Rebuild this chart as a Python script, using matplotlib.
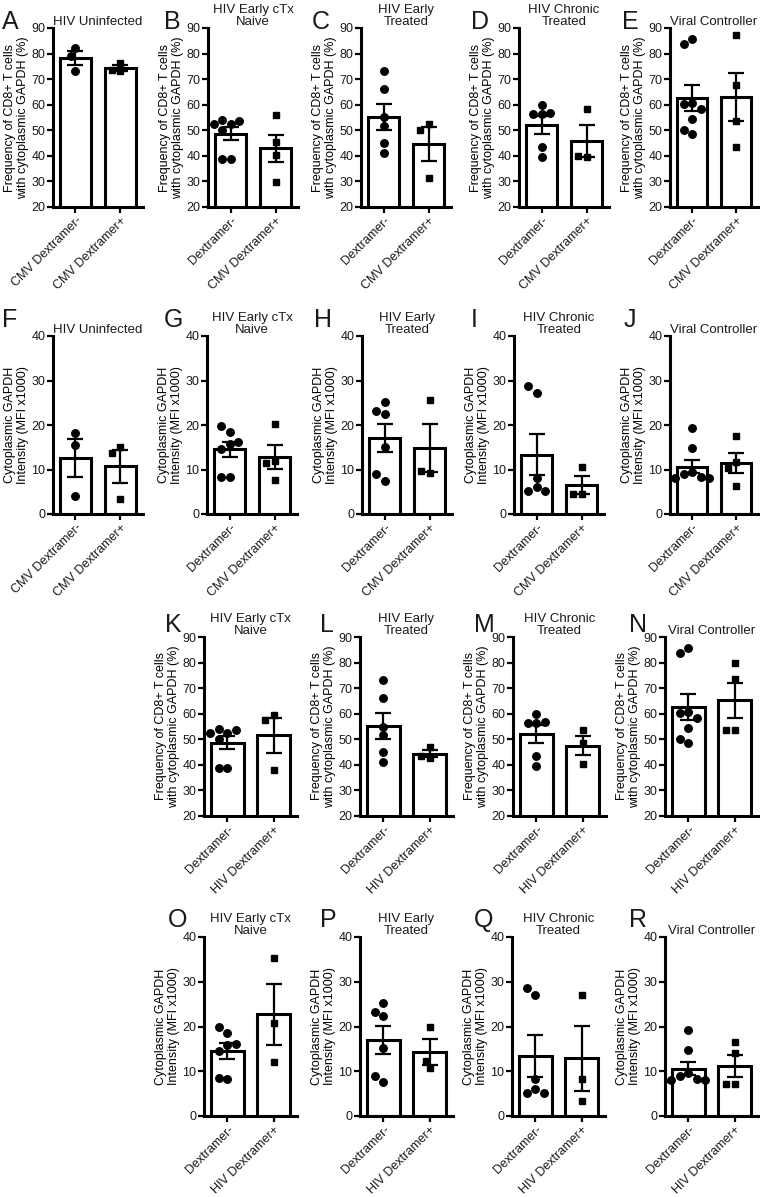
import numpy as np
import matplotlib
matplotlib.use("Agg")
import matplotlib.pyplot as plt

plt.rcParams['font.family'] = ['Liberation Sans', 'DejaVu Sans']
plt.rcParams['font.size'] = 9
plt.rcParams['text.color'] = '#1a1a1a'

# group order: uninfected, early cTx naive, early treated, chronic treated, viral controller
titles = ["HIV Uninfected", "HIV Early cTx\nNaive", "HIV Early\nTreated",
          "HIV Chronic\nTreated", "Viral Controller"]

# frequency of CD8+ T cells with cytoplasmic GAPDH (%)
freq_dex_neg = [[82.3, 79.0, 73.1],
                [52.5, 54.2, 53.8, 52.3, 50.2, 38.6, 38.8],
                [73.0, 66.0, 55.0, 51.5, 45.0, 41.2],
                [60.0, 56.5, 56.2, 56.8, 43.3, 39.7],
                [85.8, 83.8, 60.7, 60.1, 58.4, 54.5, 48.4, 50.1]]
freq_cmv_pos = [[76.5, 73.0, 73.5],
                [55.8, 45.5, 40.5, 29.8],
                [52.3, 50.1, 31.3],
                [58.5, 39.5, 40.0],
                [87.1, 67.9, 53.6, 43.6]]
freq_hiv_pos = [None,
                [59.4, 57.4, 37.8],
                [47.0, 42.5, 43.5],
                [53.5, 48.5, 40.5],
                [80.0, 73.5, 53.8, 53.8]]

# cytoplasmic GAPDH intensity (MFI x1000)
mfi_dex_neg = [[18.2, 15.6, 4.1],
               [18.5, 19.8, 15.8, 14.5, 16.2, 8.3, 8.4],
               [25.2, 22.4, 23.2, 15.1, 7.5, 9.0],
               [27.1, 28.7, 8.2, 6.0, 5.1, 5.1],
               [19.3, 14.8, 9.5, 9.0, 8.3, 8.0, 8.0, 7.9]]
mfi_cmv_pos = [[15.0, 13.8, 3.4],
               [20.2, 11.8, 11.4, 7.7],
               [25.6, 9.3, 9.6],
               [10.6, 4.4, 4.6],
               [17.5, 11.6, 10.3, 6.4]]
mfi_hiv_pos = [None,
               [35.3, 20.8, 12.0],
               [20.0, 10.7, 12.4],
               [27.1, 8.2, 3.3],
               [16.6, 14.0, 7.1, 7.1]]

freq_label = "Frequency of CD8+ T cells\nwith cytoplasmic GAPDH (%)"
mfi_label = "Cytoplasmic GAPDH\nIntensity (MFI x1000)"
freq_ticks = [20, 30, 40, 50, 60, 70, 80, 90]
mfi_ticks = [0, 10, 20, 30, 40]

W, H = 760, 1197
fig = plt.figure(figsize=(W / 100, H / 100), dpi=100)

# layout in pixels
row_top = [28, 336, 637, 937]
row_bot = [207, 514, 816, 1116]
col_left = [[53, 208, 361, 519, 670],
            [53, 207, 362, 514, 670],
            [204, 360, 513, 665],
            [204, 360, 512, 665]]
row_w = [90, 90, 93, 93]
letters = [["A", "B", "C", "D", "E"], ["F", "G", "H", "I", "J"],
           ["K", "L", "M", "N"], ["O", "P", "Q", "R"]]
letter_x = [[2, 164, 312, 471, 622], [2, 164, 314, 471, 624],
            [165, 320, 474, 629], [168, 320, 474, 629]]
letter_y = [29, 327, 632, 927]


def swarm_x(ax, values, center, diam=8.5):
    bb = ax.get_window_extent()
    x0, x1 = ax.get_xlim()
    y0, y1 = ax.get_ylim()
    sx = bb.width / (x1 - x0)
    sy = bb.height / (y1 - y0)
    cands = [0.0]
    for k in range(1, 12):
        cands += [-k * diam / 2, k * diam / 2]
    placed = []
    xs = []
    for v in values:
        yp = v * sy
        for off in cands:
            if all((off - px) ** 2 + (yp - py) ** 2 >= diam ** 2 for px, py in placed):
                break
        placed.append((off, yp))
        xs.append(center + off / sx)
    return xs


def panel(ax, neg, pos, xlabels, ylim, yticks, ylabel, title):
    ax.set_xlim(-0.5, 1.5)
    ax.set_ylim(*ylim)
    means = [np.mean(neg), np.mean(pos)]
    sems = [np.std(neg, ddof=1) / np.sqrt(len(neg)),
            np.std(pos, ddof=1) / np.sqrt(len(pos))]
    ax.bar([0, 1], means, width=0.7, color="white", edgecolor="black",
           linewidth=2.2, zorder=1)
    ax.plot(swarm_x(ax, neg, 0), neg, "o", color="black", ms=5.4, zorder=3)
    ax.plot(swarm_x(ax, pos, 1), pos, "s", color="black", ms=4.8, zorder=3)
    ax.errorbar([0, 1], means, yerr=sems, fmt="none", ecolor="black",
                elinewidth=1.6, capsize=5.5, capthick=1.6, zorder=4)
    for s in ["top", "right"]:
        ax.spines[s].set_visible(False)
    for s in ["left", "bottom"]:
        ax.spines[s].set_linewidth(2.2)
    ax.set_yticks(yticks)
    ax.set_xticks([0, 1])
    ax.set_xticklabels(xlabels, rotation=45, ha="right", rotation_mode="anchor")
    ax.tick_params(direction="out", length=4, width=1.6, labelsize=9, pad=1.5,
                   labelcolor="#1a1a1a")
    ax.set_ylabel(ylabel, fontsize=9, linespacing=1.05, labelpad=2)
    ax.set_title(title, fontsize=9.5, pad=1, linespacing=1.05)


for r in range(4):
    is_freq = r in (0, 2)
    is_cmv = r in (0, 1)
    gidx = list(range(5)) if is_cmv else list(range(1, 5))
    for c, g in enumerate(gidx):
        left = col_left[r][c]
        w = min(row_w[r], 758 - left)
        ax = fig.add_axes([left / W, 1 - row_bot[r] / H, w / W,
                           (row_bot[r] - row_top[r]) / H])
        if is_freq:
            neg = freq_dex_neg[g]
            pos = freq_cmv_pos[g] if is_cmv else freq_hiv_pos[g]
            ylim, yt, yl = (20, 90), freq_ticks, freq_label
        else:
            neg = mfi_dex_neg[g]
            pos = mfi_cmv_pos[g] if is_cmv else mfi_hiv_pos[g]
            ylim, yt, yl = (0, 40), mfi_ticks, mfi_label
        if is_cmv:
            xl = ["CMV Dextramer-" if g == 0 else "Dextramer-", "CMV Dextramer+"]
        else:
            xl = ["Dextramer-", "HIV Dextramer+"]
        panel(ax, neg, pos, xl, ylim, yt, yl, titles[g])
        fig.text(letter_x[r][c] / W, 1 - letter_y[r] / H, letters[r][c],
                 fontsize=18, va="baseline", ha="left")

fig.savefig("out.png", dpi=100)
